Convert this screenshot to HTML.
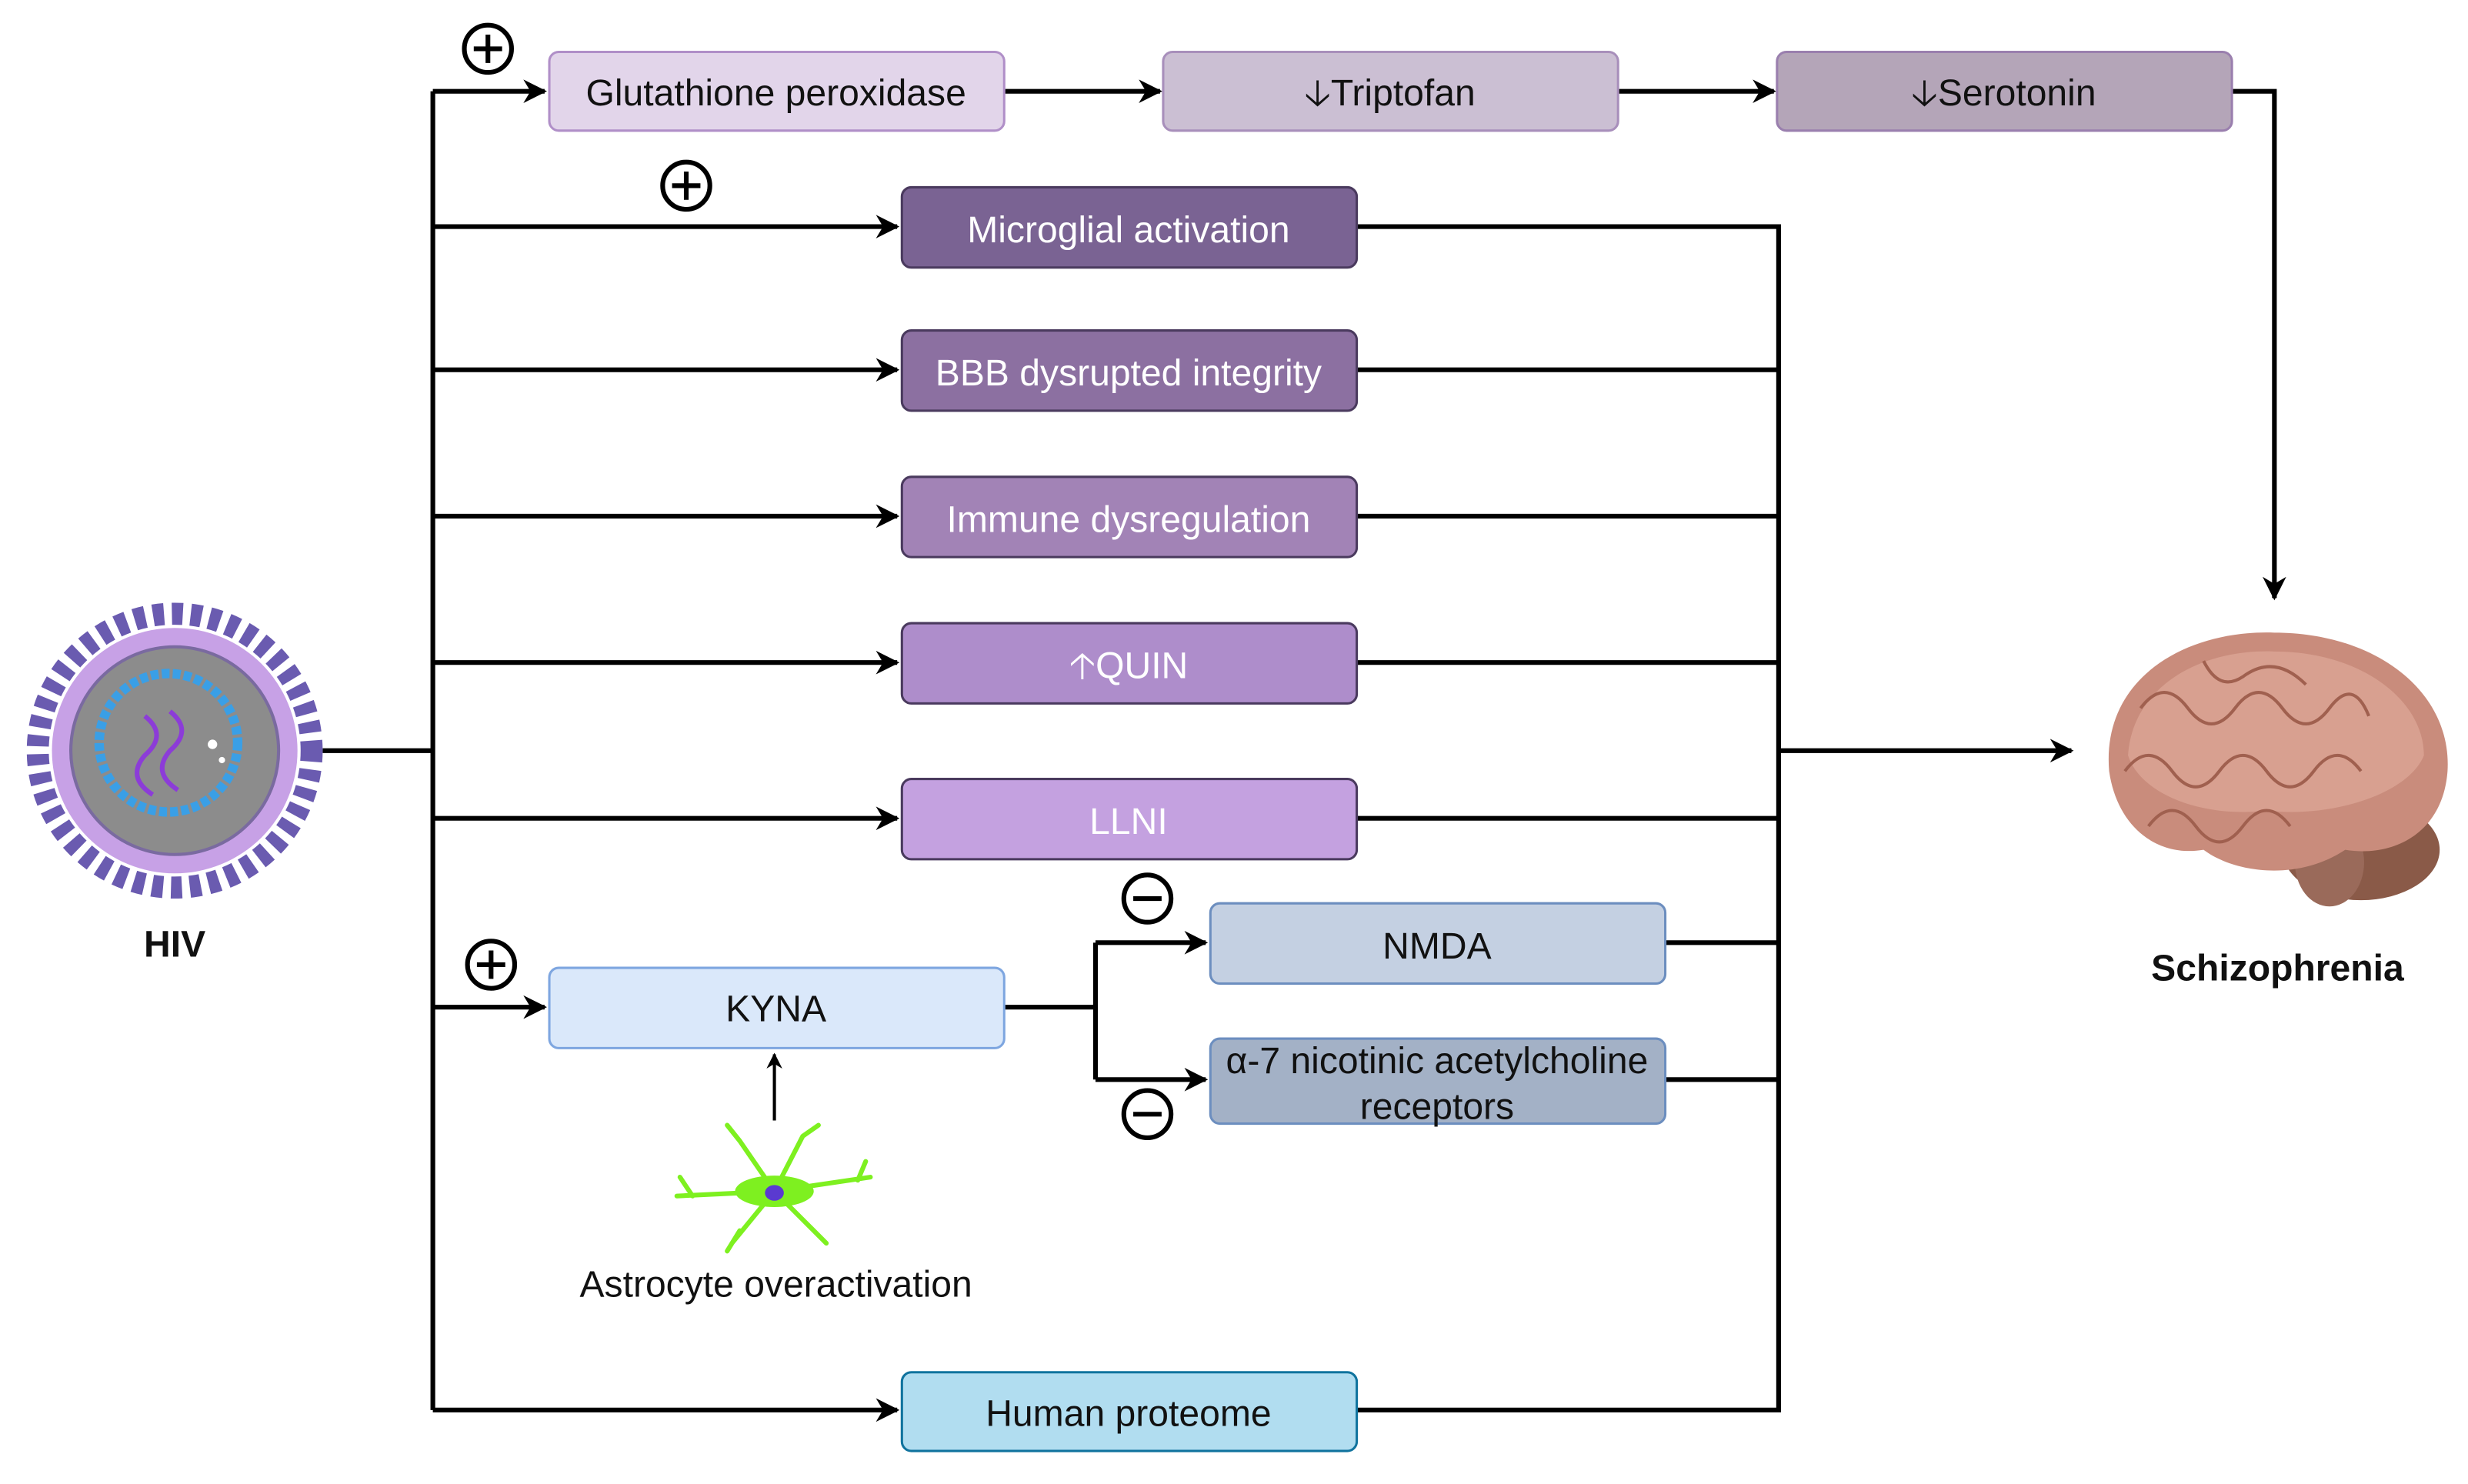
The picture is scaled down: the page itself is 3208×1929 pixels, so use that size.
<!DOCTYPE html>
<html><head><meta charset="utf-8"><style>html,body{margin:0;padding:0;background:#fff}svg{display:block}</style></head><body>
<svg width="3208" height="1929" viewBox="0 0 1568 943" preserveAspectRatio="none" xmlns="http://www.w3.org/2000/svg" font-family="Liberation Sans, Arial, sans-serif">
<defs><marker id="a" viewBox="0 0 10 10" refX="9" refY="5" markerWidth="5" markerHeight="5" orient="auto"><path d="M0,0 L10,5 L0,10 L3,5z" fill="#000"/></marker></defs>
<g stroke="#000" stroke-width="3" fill="none">
<path d="M205,477 H275"/>
<path d="M275,58 V896"/>
<path d="M275,58 H346" marker-end="url(#a)"/>
<path d="M638,58 H737" marker-end="url(#a)"/>
<path d="M1028,58 H1127" marker-end="url(#a)"/>
<path d="M1418,58 H1445 V380" marker-end="url(#a)"/>
<path d="M275,144 H570" marker-end="url(#a)"/>
<path d="M275,235 H570" marker-end="url(#a)"/>
<path d="M275,328 H570" marker-end="url(#a)"/>
<path d="M275,421 H570" marker-end="url(#a)"/>
<path d="M275,520 H570" marker-end="url(#a)"/>
<path d="M275,640 H346" marker-end="url(#a)"/>
<path d="M275,896 H570" marker-end="url(#a)"/>
<path d="M862,144 H1130 V896 H862"/>
<path d="M862,235 H1130 M862,328 H1130 M862,421 H1130 M862,520 H1130 M1058,599 H1130 M1058,686 H1130"/>
<path d="M1130,477 H1316" marker-end="url(#a)"/>
<path d="M638,640 H696 M696,599 V686"/>
<path d="M696,599 H766" marker-end="url(#a)"/>
<path d="M696,686 H766" marker-end="url(#a)"/>
</g>
<path d="M492,712 V670" stroke="#000" stroke-width="2" marker-end="url(#a)"/>
<g stroke-width="1.5">
<rect x="349" y="33" width="289" height="50" rx="6" fill="#e2d5ea" stroke="#b08fc8"/>
<rect x="739" y="33" width="289" height="50" rx="6" fill="#cbbfd3" stroke="#a88fbb"/>
<rect x="1129" y="33" width="289" height="50" rx="6" fill="#b4a5b8" stroke="#9a7fae"/>
<rect x="573" y="119" width="289" height="51" rx="6" fill="#7a6393" stroke="#4a3a5e"/>
<rect x="573" y="210" width="289" height="51" rx="6" fill="#8c70a1" stroke="#4a3a5e"/>
<rect x="573" y="303" width="289" height="51" rx="6" fill="#a283b6" stroke="#4a3a5e"/>
<rect x="573" y="396" width="289" height="51" rx="6" fill="#ae8dcb" stroke="#4a3a5e"/>
<rect x="573" y="495" width="289" height="51" rx="6" fill="#c4a1e0" stroke="#4a3a5e"/>
<rect x="349" y="615" width="289" height="51" rx="6" fill="#dae8fa" stroke="#7ea6e0"/>
<rect x="769" y="574" width="289" height="51" rx="6" fill="#c4d0e2" stroke="#6c8ebf"/>
<rect x="769" y="660" width="289" height="54" rx="6" fill="#a3b1c6" stroke="#6c8ebf"/>
<rect x="573" y="872" width="289" height="50" rx="6" fill="#b1ddf0" stroke="#10739e"/>
</g>
<g font-size="23.5" text-anchor="middle">
<text x="493" y="67" fill="#111">Glutathione peroxidase</text>
<text x="883" y="67" fill="#111">🡣Triptofan</text>
<text x="1273" y="67" fill="#111">🡣Serotonin</text>
<text x="717" y="154" fill="#fff">Microglial activation</text>
<text x="717" y="245" fill="#fff">BBB dysrupted integrity</text>
<text x="717" y="338" fill="#fff">Immune dysregulation</text>
<text x="717" y="431" fill="#fff">🡡QUIN</text>
<text x="717" y="530" fill="#fff">LLNI</text>
<text x="493" y="649" fill="#111">KYNA</text>
<text x="913" y="609" fill="#111">NMDA</text>
<text x="913" y="682" fill="#111">α-7 nicotinic acetylcholine</text>
<text x="913" y="711" fill="#111">receptors</text>
<text x="717" y="906" fill="#111">Human proteome</text>
<text x="493" y="824" fill="#111">Astrocyte overactivation</text>
<text x="111" y="608" font-weight="bold" fill="#111">HIV</text>
<text x="1447" y="623" font-weight="bold" fill="#111">Schizophrenia</text>
</g>
<g stroke="#000" stroke-width="3" fill="#fff">
<circle cx="310" cy="31" r="15"/><circle cx="436" cy="118" r="15"/><circle cx="312" cy="613" r="15"/>
<circle cx="729" cy="571" r="15"/><circle cx="729" cy="708" r="15"/>
<path d="M301,31 H319 M310,22 V40 M427,118 H445 M436,109 V127 M303,613 H321 M312,604 V622 M720,571 H738 M720,708 H738"/>
</g>
<!-- HIV virus -->
<circle cx="111" cy="477" r="87" fill="none" stroke="#6a5bb0" stroke-width="14" stroke-dasharray="7 5"/>
<circle cx="111" cy="477" r="78" fill="#c7a1e6"/>
<circle cx="111" cy="477" r="66" fill="#8c8c8c" stroke="#7a6aa0" stroke-width="2"/>
<circle cx="107" cy="472" r="44" fill="none" stroke="#3a9fe6" stroke-width="6" stroke-dasharray="5 2"/>
<path d="M92,455 q15,12 0,25 q-12,14 5,25 M108,452 q15,12 0,25 q-12,14 5,25" stroke="#8c3cd8" stroke-width="3" fill="none"/>
<circle cx="135" cy="473" r="3" fill="#fff"/><circle cx="141" cy="483" r="2" fill="#fff"/>
<!-- Astrocyte -->
<g stroke="#7ef020" stroke-width="3" fill="none" stroke-linecap="round">
<path d="M492,757 L470,725 M492,757 L510,722 M492,757 L430,760 M492,757 L553,748 M492,757 L465,790 M492,757 L520,785 M470,725 L462,715 M510,722 L520,715 M440,760 L432,748 M545,750 L550,738 M470,782 L462,795 M515,780 L525,790"/>
<ellipse cx="492" cy="757" rx="25" ry="10" fill="#7ef020" stroke="none"/>
</g>
<ellipse cx="492" cy="758" rx="6" ry="5" fill="#5a3ad0"/>
<!-- Brain -->
<ellipse cx="1500" cy="540" rx="50" ry="32" fill="#8a5a48"/>
<ellipse cx="1480" cy="548" rx="22" ry="28" fill="#9a6a5a"/>
<path d="M1340,490 C1335,430 1390,400 1445,402 C1510,402 1558,440 1555,490 C1552,530 1520,545 1490,540 C1460,560 1420,555 1400,540 C1370,545 1345,525 1340,490 Z" fill="#c98c7c"/>
<path d="M1352,480 C1355,435 1400,412 1445,414 C1500,414 1540,445 1540,480 C1530,505 1480,520 1440,515 C1400,520 1360,505 1352,480 Z" fill="#d8a090"/>
<g stroke="#a0604f" stroke-width="2" fill="none">
<path d="M1360,450 q15,-20 30,0 q15,20 30,0 q15,-20 30,0 q15,20 30,0 q15,-20 25,5"/>
<path d="M1350,490 q15,-20 30,0 q15,20 30,0 q15,-20 30,0 q15,20 30,0 q15,-20 30,0"/>
<path d="M1365,525 q15,-20 30,0 q15,20 30,0 q15,-20 30,0"/>
<path d="M1400,420 q10,20 25,10 q20,-15 40,5"/>
</g>
</svg>
</body></html>
